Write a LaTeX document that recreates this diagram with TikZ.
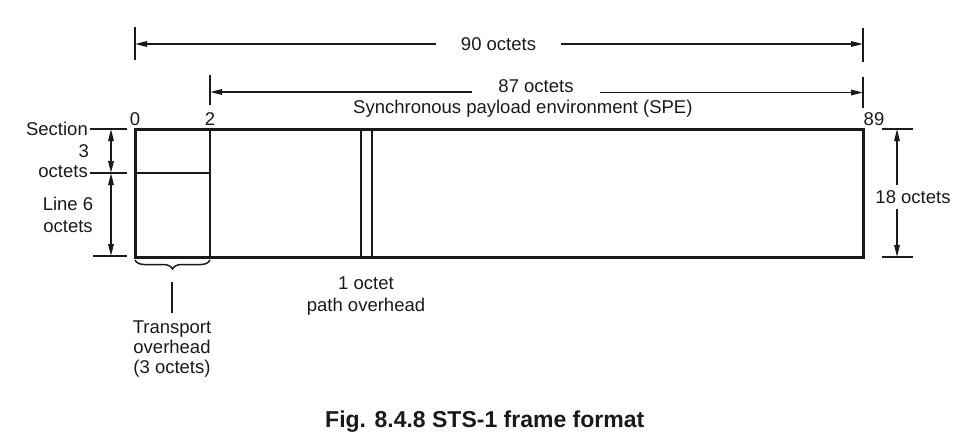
\documentclass[tikz,border=0pt]{standalone}
\usepackage{fontspec}
\setmainfont{Liberation Sans}
\usetikzlibrary{arrows.meta,decorations.pathreplacing}
\definecolor{ink}{HTML}{1A1A1A}
\begin{document}
\begin{tikzpicture}[x=1pt,y=-1pt,
  lbl/.style={font=\fontsize{18.5}{22}\selectfont, text=ink, inner sep=0pt},
  caption/.style={font=\fontsize{23}{26}\selectfont\bfseries, text=ink, inner sep=0pt},
  framebox/.style={line width=3pt, draw=ink, line join=miter},
  innerline/.style={line width=2.8pt, draw=ink},
  tick/.style={line width=1.8pt, draw=ink},
  dimtip/.tip={Triangle[length=12pt,width=5.5pt]},
  dim/.style={line width=1.5pt, draw=ink, -dimtip},
  dimboth/.style={line width=1.5pt, draw=ink, dimtip-dimtip},
  bracestyle/.style={line width=1.5pt, draw=ink, decorate,
     decoration={brace, mirror, amplitude=9pt}},
]
\useasboundingbox (0,0) rectangle (955,436);

% ---------- frame ----------
\coordinate (ftl) at (135,129);
\coordinate (fbr) at (863,257);
\draw[framebox] (ftl) rectangle (fbr);
\coordinate (c2t) at (210,129);
\coordinate (c2b) at (210,257);
\draw[innerline] (c2t) -- (c2b);
\coordinate (secl) at (135,173);
\coordinate (secr) at (210,173);
\draw[innerline] (secl) -- (secr);
\coordinate (p1t) at (361,129);
\coordinate (p1b) at (361,257);
\coordinate (p2t) at (372,129);
\coordinate (p2b) at (372,257);
\draw[innerline] (p1t) -- (p1b);
\draw[innerline] (p2t) -- (p2b);

% ---------- column numbers ----------
\node[lbl] (n0) at (135,119) {0};
\node[lbl] (n2) at (210,119) {2};
\node[lbl] (n89) at (874,119) {89};

% ---------- 90 octets ----------
\coordinate (t90a) at (135,27);
\coordinate (t90b) at (135,60);
\coordinate (t90c) at (863,28);
\coordinate (t90d) at (863,62);
\draw[tick] (t90a) -- (t90b);
\draw[tick] (t90c) -- (t90d);
\coordinate (a90l) at (135,44);
\coordinate (a90r) at (863,44);
\node[lbl, inner xsep=25pt] (l90) at (498.5,44) {90 octets};
\draw[dim] (l90.west) -- (a90l);
\draw[dim] (l90.east) -- (a90r);

% ---------- 87 octets ----------
\coordinate (t87a) at (210,75);
\coordinate (t87b) at (210,105);
\coordinate (t87c) at (863,77);
\coordinate (t87d) at (863,108);
\draw[tick] (t87a) -- (t87b);
\draw[tick] (t87c) -- (t87d);
\coordinate (a87l) at (210,92);
\coordinate (a87r) at (863,92.5);
\node[lbl, inner xsep=26pt] (l87) at (536,86.5) {87 octets};
\draw[dim] (l87.west |- a87l) -- (a87l);
\draw[dim] (l87.east |- a87r) -- (a87r);
\node[lbl, anchor=west] (spe) at (353,109) {Synchronous payload environment (SPE)};

% ---------- left dimensions ----------
\coordinate (lt1a) at (90,129);
\coordinate (lt1b) at (127,129);
\coordinate (lt2a) at (90,173);
\coordinate (lt2b) at (127,173);
\coordinate (lt3a) at (93,256);
\coordinate (lt3b) at (127,256);
\draw[tick] (lt1a) -- (lt1b);
\draw[tick] (lt2a) -- (lt2b);
\draw[tick] (lt3a) -- (lt3b);
\coordinate (ls1) at (111,129);
\coordinate (ls2) at (111,173);
\coordinate (ls3) at (111,256);
\draw[dimboth] (ls1) -- (ls2);
\draw[dimboth] (ls2) -- (ls3);
\node[lbl, anchor=east] (section) at (88,129) {Section};
\node[lbl, anchor=east] (three) at (89,151) {3};
\node[lbl, anchor=east] (octs) at (88,172) {octets};
\node[lbl, align=center, anchor=north] (line6) at (68,196.5) {Line 6\\[0pt]octets};

% ---------- right dimension ----------
\coordinate (rt1a) at (882,129);
\coordinate (rt1b) at (913,129);
\coordinate (rt2a) at (882,257);
\coordinate (rt2b) at (913,257);
\draw[tick] (rt1a) -- (rt1b);
\draw[tick] (rt2a) -- (rt2b);
\coordinate (rs1) at (897,129);
\coordinate (rs2) at (897,257);
\draw[dimboth] (rs1) -- (rs2);
\node[lbl, fill=white, inner xsep=0pt, inner ysep=5pt] (r18) at (913,197) {18 octets};

% ---------- transport overhead ----------
\coordinate (bl) at (135,260);
\coordinate (br) at (210,260);
\draw[bracestyle] (bl) -- (br);
\coordinate (tpa) at (172,282);
\coordinate (tpb) at (172,313);
\draw[tick, line width=1.5pt] (tpa) -- (tpb);
\node[lbl, align=center, anchor=north, font=\fontsize{18.5}{20}\selectfont] (tohd) at (172,320.5) {Transport\\overhead\\(3 octets)};

% ---------- path overhead ----------
\node[lbl, align=center, anchor=north] (pohd) at (366,276.5) {1 octet\\path overhead};

% ---------- caption ----------
\node[caption, anchor=base west] (cap) at (325,427) {Fig. 8.4.8 STS-1 frame format};
\end{tikzpicture}
\end{document}
